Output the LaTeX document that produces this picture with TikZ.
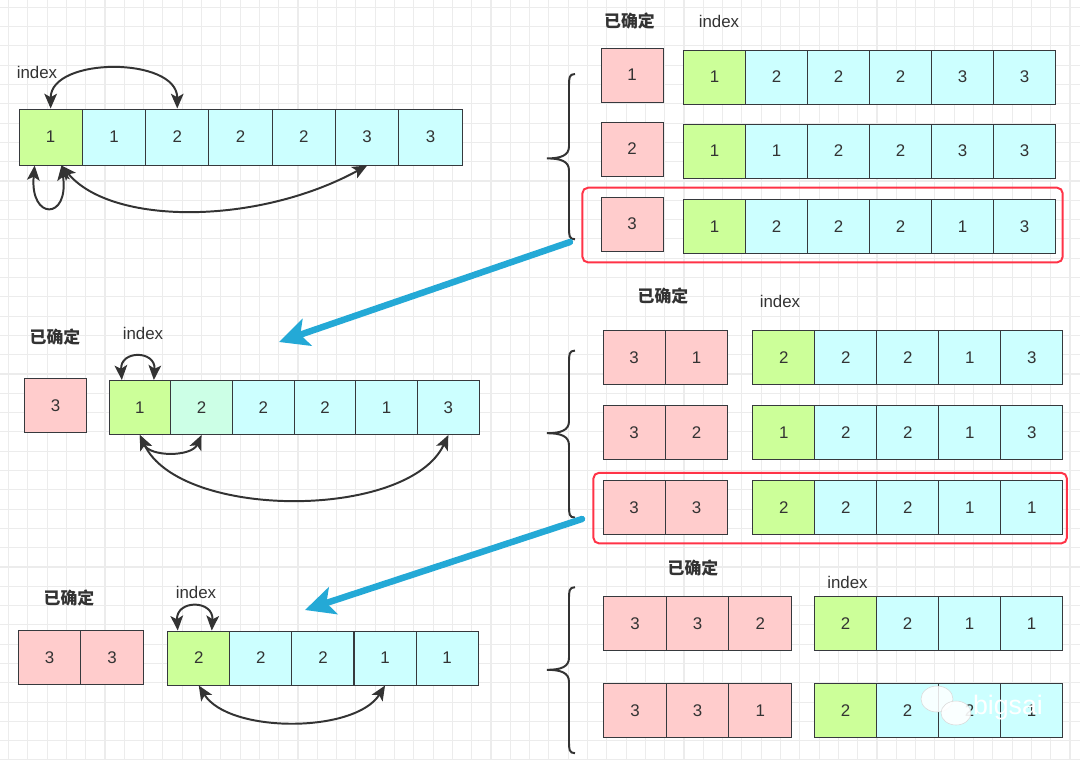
\documentclass[tikz,border=0pt]{standalone}
\usepackage{fontspec}
\setmainfont{Liberation Sans}
\newfontfamily\cjk{Noto Sans CJK SC}
\usetikzlibrary{arrows.meta}
\definecolor{headc}{HTML}{CCFF99}
\definecolor{restc}{HTML}{CCFFFF}
\definecolor{mintc}{HTML}{CCFFE6}
\definecolor{pinkc}{HTML}{FFCCCC}
\definecolor{edgec}{HTML}{36393D}
\definecolor{txtc}{HTML}{333333}
\definecolor{pickc}{HTML}{FF3347}
\definecolor{flowc}{RGB}{36,169,214}
\definecolor{gridc}{RGB}{236,236,236}

% curly brace: stem x, top y, tip y, bottom y
\newcommand{\sidebrace}[4]{%
  \draw[brc] ({#1+6},#2) .. controls (#1,#2) and (#1,{#2+4}) .. (#1,{#2+12})
    -- (#1,{#3-12}) .. controls (#1,{#3-3}) and ({#1-8},#3) .. ({#1-22},#3)
    .. controls ({#1-8},#3) and (#1,{#3+3}) .. (#1,{#3+12})
    -- (#1,{#4-12}) .. controls (#1,{#4-4}) and (#1,#4) .. ({#1+6},#4);}

\begin{document}
\begin{tikzpicture}[x=0.025cm,y=-0.025cm,
  cell/.style={draw=edgec,line width=0.7pt,minimum width=1.55cm,minimum height=1.35cm,
    inner sep=0pt,text=txtc,font=\fontsize{12}{14}\selectfont},
  done/.style={cell,fill=pinkc},
  lbl/.style={text=txtc,font=\fontsize{12}{14}\selectfont},
  cjklbl/.style={text=txtc,font=\cjk\bfseries\fontsize{12}{14}\selectfont},
  xchg/.style={{Stealth[length=10.5pt,width=9pt,inset=2.5pt]}-{Stealth[length=10.5pt,width=9pt,inset=2.5pt]},
    draw=txtc,line width=1.4pt},
  flow/.style={-{Stealth[length=21pt,width=20pt,inset=5pt]},draw=flowc,line width=4.6pt,line cap=round},
  pick/.style={draw=pickc,line width=1.4pt,rounded corners=4pt},
  brc/.style={draw=txtc,line width=1.4pt},
  gridl/.style={draw=gridc,line width=0.8pt}]
  \useasboundingbox (0,0) rectangle (1080,759);
  \fill[white] (0,0) rectangle (1080,759);
  % grid paper
  \foreach \g in {0,...,55} \draw[gridl] ({8.5+19.3*\g},0) -- ({8.5+19.3*\g},759);
  \foreach \g in {0,...,39} \draw[gridl] (0,{7.3+19.3*\g}) -- (1080,{7.3+19.3*\g});

  % start array
  \node[lbl] (ti) at (37,72) {index};
  \foreach \v/\f [count=\i] in {1/headc,1/restc,2/restc,2/restc,2/restc,3/restc,3/restc}
    \node[cell,fill=\f,minimum width=1.58cm,minimum height=1.4cm] (t\i) at ({19+63.3*(\i-0.5)},137) {\v};
  \draw[xchg] (t1.north) .. controls +(0,-52) and +(0,-52) .. (t3.north);
  \draw[xchg] ([xshift=-0.4cm]t1.south) .. controls +(-5,55) and +(8,55) .. ([xshift=0.27cm]t1.south);
  \draw[xchg] ([xshift=0.27cm]t1.south) .. controls +(50,60) and +(-110,60) .. (t6.south);

  % first choice, three candidates
  \node[cjklbl] (rd1) at (629.5,21) {已确定};
  \node[lbl] (ri1) at (719,21) {index};
  \node[done] (ka) at (632,75) {1};
  \foreach \v/\f [count=\i] in {1/headc,2/restc,2/restc,2/restc,3/restc,3/restc}
    \node[cell,fill=\f] (ra\i) at ({683.6+62*(\i-0.5)},77) {\v};
  \node[done] (kb) at (632,149) {2};
  \foreach \v/\f [count=\i] in {1/headc,1/restc,2/restc,2/restc,3/restc,3/restc}
    \node[cell,fill=\f] (rb\i) at ({683.6+62*(\i-0.5)},151) {\v};
  \node[done] (kc) at (632,224) {3};
  \foreach \v/\f [count=\i] in {1/headc,2/restc,2/restc,2/restc,1/restc,3/restc}
    \node[cell,fill=\f] (rc\i) at ({683.6+62*(\i-0.5)},226.5) {\v};
  \draw[pick] (582.4,187.7) rectangle (1062.7,262.4);
  \sidebrace{569}{74}{158.4}{239.3}

  % after 3 fixed
  \coordinate (f1) at (570,242);
  \coordinate (f1e) at (279,342);
  \draw[flow] (f1) -- (f1e);
  \node[cjklbl] (md) at (55,337) {已确定};
  \node[lbl] (mi) at (143,333) {index};
  \node[done] (m0) at (55.5,405.4) {3};
  \foreach \v/\f [count=\i] in {1/headc,2/mintc,2/restc,2/restc,1/restc,3/restc}
    \node[cell,fill=\f,minimum width=1.54cm] (m\i) at ({109+61.7*(\i-0.5)},407.5) {\v};
  \draw[xchg] ([xshift=-0.45cm]m1.north) .. controls +(-2,-30) and +(2,-30) .. ([xshift=0.35cm]m1.north);
  \draw[xchg] (m1.south) .. controls +(10,22) and +(-10,22) .. (m2.south);
  \draw[xchg] (m1.south) .. controls +(40,85) and +(-40,85) .. (m6.south);

  % second choice, three candidates
  \node[cjklbl] (rd2) at (663,295.5) {已确定};
  \node[lbl] (ri2) at (780,301) {index};
  \foreach \v [count=\i] in {3,1} \node[done] (ja\i) at ({603+62.3*(\i-0.5)},357.3) {\v};
  \foreach \v/\f [count=\i] in {2/headc,2/restc,2/restc,1/restc,3/restc}
    \node[cell,fill=\f] (qa\i) at ({752.8+62*(\i-0.5)},357.5) {\v};
  \foreach \v [count=\i] in {3,2} \node[done] (jb\i) at ({603+62.3*(\i-0.5)},432.7) {\v};
  \foreach \v/\f [count=\i] in {1/headc,2/restc,2/restc,1/restc,3/restc}
    \node[cell,fill=\f] (qb\i) at ({752.8+62*(\i-0.5)},432.7) {\v};
  \foreach \v [count=\i] in {3,3} \node[done] (jc\i) at ({603+62.3*(\i-0.5)},507.4) {\v};
  \foreach \v/\f [count=\i] in {2/headc,2/restc,2/restc,1/restc,1/restc}
    \node[cell,fill=\f] (qc\i) at ({752.8+62*(\i-0.5)},507.6) {\v};
  \draw[pick] (593.4,472.8) rectangle (1066.9,543.4);
  \sidebrace{569}{350.6}{433.2}{517.6}

  % after 3,3 fixed
  \coordinate (f2) at (582,519);
  \coordinate (f2e) at (305,610);
  \draw[flow] (f2) -- (f2e);
  \node[cjklbl] (nd) at (69,598) {已确定};
  \node[lbl] (ni) at (196,592) {index};
  \foreach \v [count=\i] in {3,3} \node[done,minimum width=1.56cm] (n0\i) at ({18.3+62.5*(\i-0.5)},657.5) {\v};
  \foreach \v/\f [count=\i] in {2/headc,2/restc,2/restc,1/restc,1/restc}
    \node[cell,fill=\f] (n\i) at ({167.7+62.1*(\i-0.5)},658) {\v};
  \draw[xchg] ([xshift=-0.525cm]n1.north) .. controls +(-2,-31) and +(2,-31) .. ([xshift=0.325cm]n1.north);
  \draw[xchg] (n1.south) .. controls +(30,48) and +(-30,48) .. (n4.south);

  % third choice, two candidates
  \node[cjklbl] (rd3) at (693,568) {已确定};
  \node[lbl] (ri3) at (847.5,582) {index};
  \foreach \v [count=\i] in {3,3,2} \node[done,minimum width=1.565cm] (ha\i) at ({603.7+62.6*(\i-0.5)},623.7) {\v};
  \foreach \v/\f [count=\i] in {2/headc,2/restc,1/restc,1/restc}
    \node[cell,fill=\f] (ua\i) at ({814.5+62*(\i-0.5)},623.7) {\v};
  \foreach \v [count=\i] in {3,3,1} \node[done,minimum width=1.565cm] (hb\i) at ({603.7+62.6*(\i-0.5)},710.5) {\v};
  \foreach \v/\f [count=\i] in {2/headc,2/restc,2/restc,1/restc}
    \node[cell,fill=\f] (ub\i) at ({814.5+62*(\i-0.5)},710.5) {\v};
  \sidebrace{569}{587.2}{669.8}{753.2}

  % watermark
  \fill[white,opacity=.85] (937,699) ellipse (16 and 13);
  \draw[black!15] (937,699) ellipse (16 and 13);
  \fill[white,opacity=.9] (956,713) ellipse (15 and 12);
  \draw[black!15] (956,713) ellipse (15 and 12);
  \node[text=white,font=\fontsize{19}{20}\selectfont] (wm) at (1008,708) {bigsai};
\end{tikzpicture}
\end{document}
